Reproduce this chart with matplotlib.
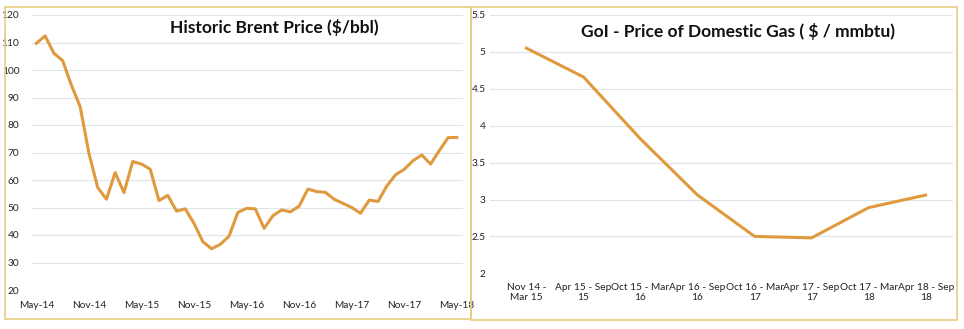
import matplotlib.pyplot as plt
from matplotlib.patches import Rectangle

plt.rcParams['font.family'] = ['Lato', 'DejaVu Sans']

# monthly Brent price, May-14 .. May-18
brent = [109.7, 112.4, 106.1, 103.4, 94.5, 86.7, 69.7, 57.3, 53.0, 62.7,
         55.4, 66.7, 65.8, 63.9, 52.5, 54.4, 48.7, 49.5, 44.2, 37.6,
         35.0, 36.6, 39.6, 48.2, 49.7, 49.5, 42.4, 47.0, 49.1, 48.4,
         50.5, 56.7, 55.8, 55.5, 53.0, 51.5, 50.0, 47.9, 52.7, 52.2,
         57.8, 61.9, 63.9, 67.0, 69.1, 65.8, 70.7, 75.4, 75.5]
brent_ticks = ['May-14', 'Nov-14', 'May-15', 'Nov-15', 'May-16',
               'Nov-16', 'May-17', 'Nov-17', 'May-18']

gas_periods = ['Nov 14 -\nMar 15', 'Apr 15 - Sep\n15', 'Oct 15 - Mar\n16',
               'Apr 16 - Sep\n16', 'Oct 16 - Mar\n17', 'Apr 17 - Sep\n17',
               'Oct 17 - Mar\n18', 'Apr 18 - Sep\n18']
gas_price = [5.05, 4.66, 3.82, 3.06, 2.50, 2.48, 2.89, 3.06]

line_c = '#E09A3E'
grid_c = '#DCE5EA'
border_c = '#E8CC80'
text_c = '#222222'
W, H = 964, 329

fig = plt.figure(figsize=(W / 100, H / 100), dpi=100)


def frac(x0, y0, x1, y1):
    return [x0 / W, 1 - y1 / H, (x1 - x0) / W, (y1 - y0) / H]


# left: Brent
ax1 = fig.add_axes(frac(31.7, 15, 463, 290))
x = list(range(len(brent)))
ax1.plot(x, brent, color=line_c, lw=2.2, solid_joinstyle='round')
ax1.set_ylim(20, 120)
ax1.set_yticks(range(20, 121, 10))
ax1.set_xlim(-0.53, 48.7)
ax1.set_xticks(range(0, 49, 6))
ax1.set_xticklabels(brent_ticks)
ax1.set_title('Historic Brent Price ($/bbl)', fontsize=12.5, fontweight='bold',
              color='#111111', x=0.562, y=0.935, pad=0)
ax1.tick_params(length=0, labelsize=7.3, pad=8, labelcolor=text_c)
ax1.tick_params(axis='y', pad=9)
ax1.grid(axis='y', color=grid_c, lw=0.8)
for s in ax1.spines.values():
    s.set_visible(False)

# right: domestic gas price
ax2 = fig.add_axes(frac(490, 15, 953, 273.3))
ax2.plot(range(len(gas_price)), gas_price, color=line_c, lw=2.2)
ax2.set_ylim(2, 5.5)
ax2.set_yticks([2, 2.5, 3, 3.5, 4, 4.5, 5, 5.5])
ax2.set_yticklabels(['2', '2.5', '3', '3.5', '4', '4.5', '5', '5.5'])
ax2.set_xlim(-0.64, 7.48)
ax2.set_xticks(range(len(gas_periods)))
ax2.set_xticklabels(gas_periods, linespacing=1.1)
ax2.set_title('GoI - Price of Domestic Gas ( $ / mmbtu)', fontsize=12.5,
              fontweight='bold', color='#111111', x=0.535, y=0.915, pad=0)
ax2.tick_params(length=0, labelsize=7.3, pad=7, labelcolor=text_c)
ax2.tick_params(axis='y', pad=3)
ax2.grid(axis='y', color=grid_c, lw=0.8)
for s in ax2.spines.values():
    s.set_visible(False)

# panel borders
fig.patches.append(Rectangle((5 / W, 1 - 319 / H), 466 / W, 312 / H,
                             transform=fig.transFigure, fill=False,
                             ec=border_c, lw=1.2))
fig.patches.append(Rectangle((471 / W, 1 - 320 / H), 486 / W, 313 / H,
                             transform=fig.transFigure, fill=False,
                             ec=border_c, lw=1.2))

fig.savefig('out.png', dpi=100)
